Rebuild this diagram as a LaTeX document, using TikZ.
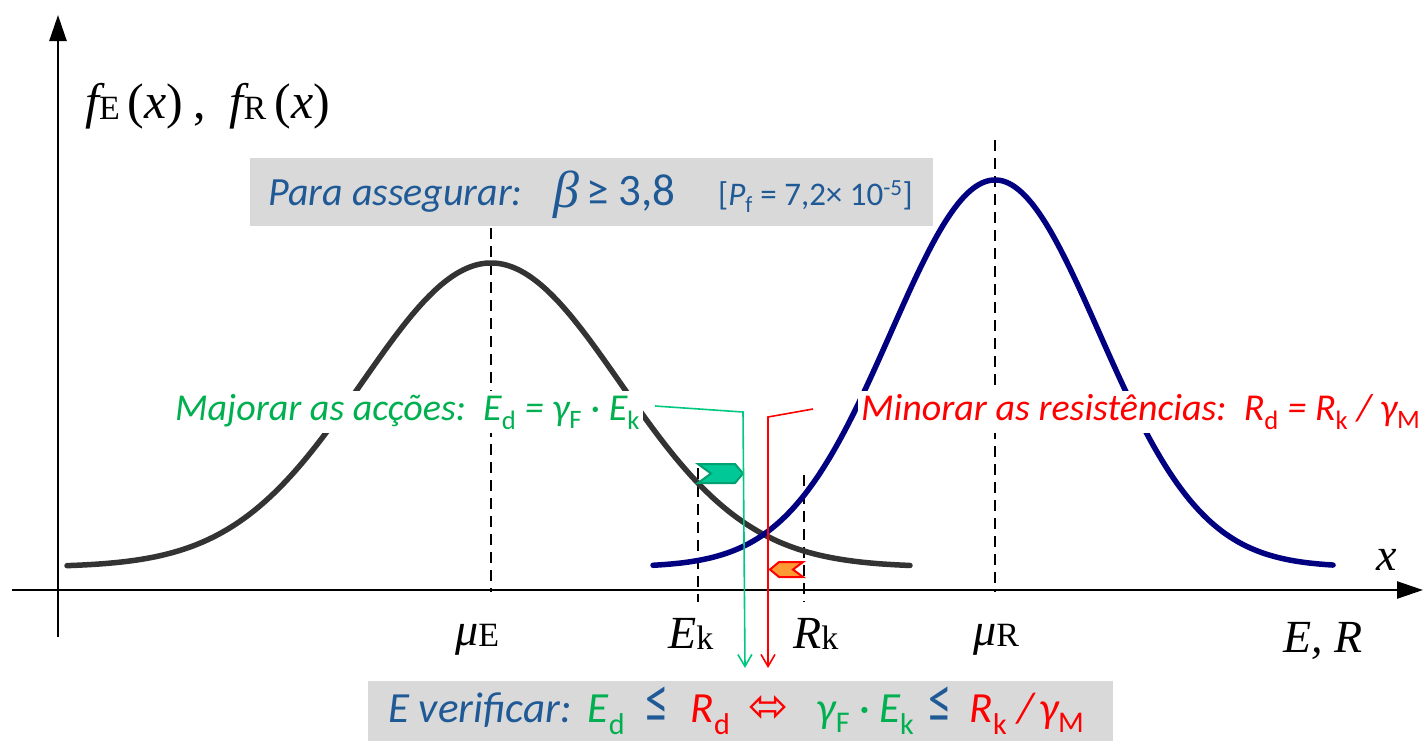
\documentclass[tikz,border=0pt]{standalone}
\usepackage{fontspec}
\setmainfont{Carlito}
\newfontfamily\djv{DejaVu Sans}
\newfontfamily\lser{Liberation Serif}
\usetikzlibrary{arrows.meta}
\definecolor{egray}{HTML}{333333}
\definecolor{rnavy}{HTML}{000080}
\definecolor{tblue}{HTML}{1F5A96}
\definecolor{tgreen}{HTML}{00B050}
\definecolor{lgreen}{HTML}{00C880}
\definecolor{tred}{HTML}{FF0000}
\definecolor{boxgray}{HTML}{D9D9D9}
\definecolor{chevfill}{HTML}{00C896}
\definecolor{chevdraw}{HTML}{00A070}
\definecolor{orng}{HTML}{FF9933}
\newcommand{\lsb}[1]{\raisebox{-1pt}{\fontsize{34}{36}\selectfont\upshape #1}}
\newcommand{\bigle}{\textcolor{tblue}{\scalebox{1.1}[1.5]{≤}}}
\tikzset{
  axis/.style={line width=2.5pt, black, -{Triangle[length=26pt,width=17pt]}},
  ecurve/.style={line width=5.5pt, egray, line cap=round},
  rcurve/.style={line width=5.5pt, rnavy, line cap=round},
  guide/.style={line width=1.8pt, black, dash pattern=on 11pt off 7pt},
  gline/.style={line width=1.6pt, lgreen, -{Straight Barb[length=12pt,width=14pt,line width=1.6pt]}},
  rline/.style={line width=1.6pt, tred, -{Straight Barb[length=12pt,width=14pt,line width=1.6pt]}},
  mlabel/.style={anchor=base west, inner sep=0pt, font=\lser\fontsize{46}{50}\selectfont\itshape},
  graybox/.style={fill=boxgray, inner sep=0pt, anchor=north west},
}
\begin{document}
\begin{tikzpicture}[x=1pt,y=-1pt]
\useasboundingbox (0,0) rectangle (1423,740);

% axes
\coordinate (yb) at (58,637); \coordinate (yt) at (58,15);
\coordinate (xl) at (12,590); \coordinate (xr) at (1423,590);
\draw[axis] (yb) -- (yt);
\draw[axis] (xl) -- (xr);

% dashed guides
\coordinate (muEt) at (491,228); \coordinate (muEb) at (491,592);
\coordinate (muRt) at (995,140); \coordinate (muRb) at (995,592);
\coordinate (Ekt) at (698,468); \coordinate (Ekb) at (698,602);
\coordinate (Rkt) at (804,475); \coordinate (Rkb) at (804,602);
\draw[guide] (muEt) -- (muEb);
\draw[guide] (muRt) -- (muRb);
\draw[guide] (Ekt) -- (Ekb);
\draw[guide] (Rkt) -- (Rkb);

% curves
\draw[ecurve] plot[domain=67:910, samples=150, smooth] (\x, {567-304*exp(-0.5*((\x-491)/129)^2)});
\draw[rcurve] plot[domain=653:1333, samples=150, smooth] (\x, {567-387*exp(-0.5*((\x-995)/104)^2)});

% chevrons
\draw[line width=2pt, chevdraw, fill=chevfill, line join=miter]
  (698,464) -- (735,464) -- (743,473.5) -- (735,483) -- (698,483) -- (711,473.5) -- cycle;
\draw[line width=2pt, tred, fill=orng, line join=miter]
  (803,562) -- (779,562) -- (770,569.5) -- (779,577) -- (803,577) -- (793,569.5) -- cycle;

% top box
\node[graybox, minimum width=683pt, minimum height=68pt] (pbox) at (250,158) {};
\node[anchor=base west, inner sep=0pt, text=tblue, font=\fontsize{40}{44}\selectfont\itshape] (para) at (268,205) {Para assegurar:};
\node[anchor=base west, inner sep=0pt, text=tblue, font=\lser\fontsize{52}{56}\selectfont\itshape] (beta) at (553,207) {β};
\node[anchor=base west, inner sep=0pt, text=tblue, font=\fontsize{45}{48}\selectfont] (ge) at (586,205) {≥ 3,8};
\node[anchor=base west, inner sep=0pt, text=tblue, font=\fontsize{33}{36}\selectfont] (pf) at (718,205) {[{\itshape P}\textsubscript{f} = 7,2× 10\textsuperscript{-5}]};

% bottom box
\node[graybox, minimum width=745pt, minimum height=70pt] (vbox) at (368,681) {};
\node[anchor=base west, inner sep=0pt, font=\fontsize{43}{46}\selectfont] (verif) at (388,722)
  {\textcolor{tblue}{\itshape E verificar:}\hspace{16pt}%
   \textcolor{tgreen}{\itshape E\textsubscript{\upshape d}}\hspace{20pt}%
   \bigle\hspace{22pt}%
   \textcolor{tred}{\itshape R\textsubscript{\upshape d}}\hspace{18pt}%
   \textcolor{tred}{\djv\fontsize{48}{50}\selectfont ⬄}\hspace{28pt}%
   \textcolor{tgreen}{\itshape γ\textsubscript{\upshape F}\hspace{9pt}\upshape·\hspace{9pt}\itshape E\textsubscript{\upshape k}}\hspace{14pt}%
   \bigle\hspace{18pt}%
   \textcolor{tred}{\itshape R\textsubscript{\upshape k}\hspace{10pt}/\hspace{5pt}γ\textsubscript{\upshape M}}};

% side texts
\node[anchor=base west, inner sep=3pt, fill=white, text=tgreen, font=\fontsize{38}{42}\selectfont\itshape] (maj) at (172,420)
  {Majorar as acções:\ \ E\textsubscript{\upshape d} = γ\textsubscript{\upshape F} {\upshape·} E\textsubscript{\upshape k}};
\node[anchor=base west, inner sep=3pt, fill=white, text=tred, font=\fontsize{38}{42}\selectfont\itshape] (mino) at (858,420)
  {Minorar as resistências:\ \ R\textsubscript{\upshape d} = R\textsubscript{\upshape k} / γ\textsubscript{\upshape M}};

% connectors
\coordinate (gs) at (655,406); \coordinate (gc) at (743,412); \coordinate (gend) at (745,668);
\coordinate (rs) at (813,409); \coordinate (rc) at (768,417); \coordinate (rend) at (768,668);
\draw[gline] (gs) -- (gc) -- (gend);
\draw[rline] (rs) -- (rc) -- (rend);

% serif labels
\node[mlabel, font=\lser\fontsize{50}{54}\selectfont\itshape] (fE) at (85,118)
  {f\lsb{E}\hspace{8pt}{\upshape(}x{\upshape)}\hspace{10pt}{\upshape,}\hspace{24pt}f\lsb{R}\hspace{8pt}{\upshape(}x{\upshape)}};
\node[mlabel] (muE) at (455,645) {μ\lsb{E}};
\node[mlabel] (Ek) at (668,648) {E\lsb{k}};
\node[mlabel] (Rk) at (793,648) {R\lsb{k}};
\node[mlabel] (muR) at (973,645) {μ\lsb{R}};
\node[mlabel] (ER) at (1283,652) {E, R};
\node[mlabel] (xlab) at (1376,570) {x};
\end{tikzpicture}
\end{document}
